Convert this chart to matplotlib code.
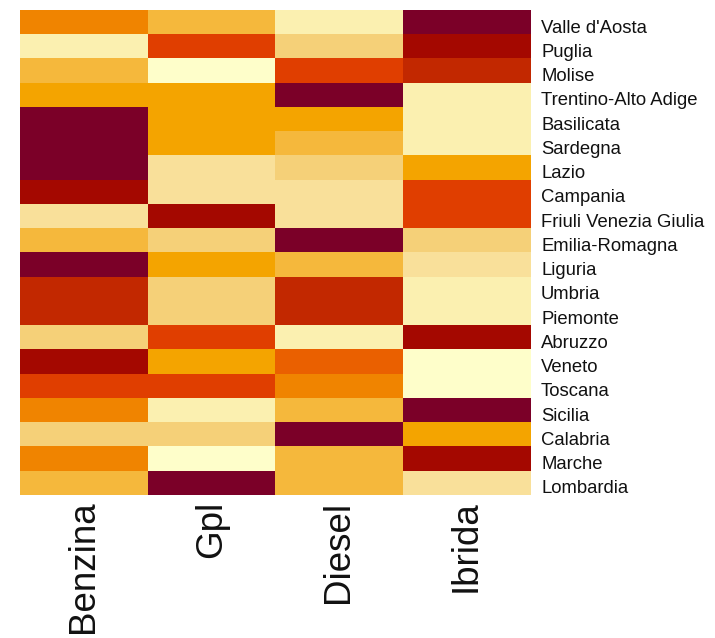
import numpy as np
import matplotlib
matplotlib.use("Agg")
import matplotlib.pyplot as plt
from matplotlib.colors import ListedColormap, BoundaryNorm
from matplotlib.transforms import ScaledTranslation

plt.rcParams['font.family'] = ['Liberation Sans', 'DejaVu Sans']

regions = ["Valle d'Aosta", "Puglia", "Molise", "Trentino-Alto Adige", "Basilicata",
           "Sardegna", "Lazio", "Campania", "Friuli Venezia Giulia", "Emilia-Romagna",
           "Liguria", "Umbria", "Piemonte", "Abruzzo", "Veneto", "Toscana",
           "Sicilia", "Calabria", "Marche", "Lombardia"]
fuels = ["Benzina", "Gpl", "Diesel", "Ibrida"]

# intensity score per region (1 = lowest, 12 = highest)
benzina = [7, 2, 5, 6, 12, 12, 12, 11, 3, 5, 12, 10, 10, 4, 11, 9, 7, 4, 7, 5]
gpl     = [5, 9, 1, 6, 6, 6, 3, 3, 11, 4, 6, 4, 4, 9, 6, 9, 2, 4, 1, 12]
diesel  = [2, 4, 9, 12, 6, 5, 4, 3, 3, 12, 5, 10, 10, 2, 8, 7, 5, 12, 5, 5]
ibrida  = [12, 11, 10, 2, 2, 2, 6, 9, 9, 4, 3, 2, 2, 11, 1, 1, 12, 6, 11, 3]

palette = ["#FEFECA", "#FBF0B0", "#F9E09A", "#F5D078", "#F5B83C", "#F4A400",
           "#F08400", "#EA6000", "#E03E00", "#C22800", "#A40800", "#7B0028"]

data = np.array([benzina, gpl, diesel, ibrida]).T
cmap = ListedColormap(palette)
norm = BoundaryNorm(np.arange(0.5, len(palette) + 1.5), cmap.N)

fig = plt.figure(figsize=(7.15, 6.38), dpi=100)
ax = fig.add_axes([20 / 715, 1 - 495 / 638, 510 / 715, 485 / 638])
ax.imshow(data, cmap=cmap, norm=norm, aspect='auto', interpolation='nearest')

ax.set_xticks(range(len(fuels)))
ax.set_xticklabels(fuels, rotation=90, fontsize=26.5, color="#111111", va='top')
ax.set_yticks(range(len(regions)))
ax.set_yticklabels(regions, fontsize=13.3, color="#111111")
ax.yaxis.tick_right()
ax.tick_params(axis='both', length=0)
ax.tick_params(axis='x', pad=4)
ax.tick_params(axis='y', pad=8)

# region names sit slightly below the row centres
shift = ScaledTranslation(0, -4 / 100, fig.dpi_scale_trans)
for lbl in ax.get_yticklabels():
    lbl.set_transform(lbl.get_transform() + shift)

for s in ax.spines.values():
    s.set_visible(False)

fig.savefig("out.png", dpi=100, facecolor="white")
